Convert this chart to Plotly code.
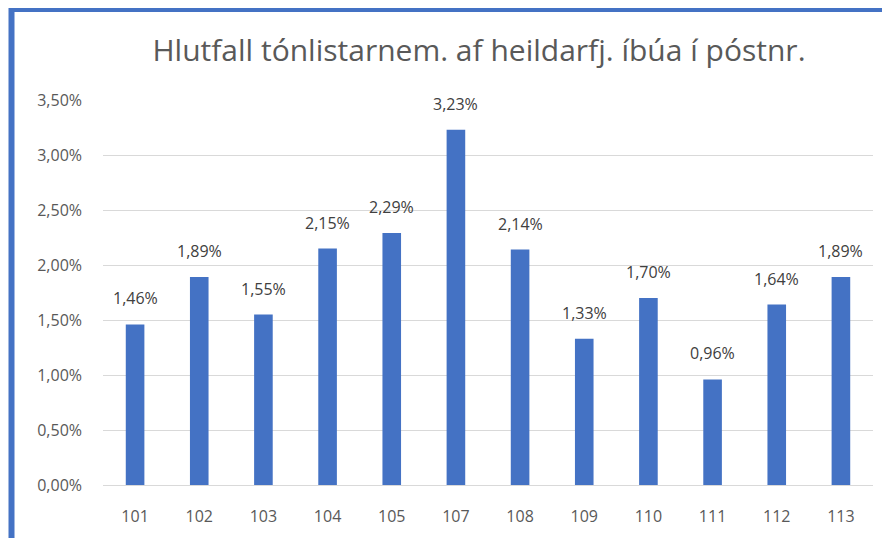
import plotly.graph_objects as go

categories = ["101", "102", "103", "104", "105", "107", "108", "109", "110", "111", "112", "113"]
values = [0.0146, 0.0189, 0.0155, 0.0215, 0.0229, 0.0323, 0.0214, 0.0133, 0.0170, 0.0096, 0.0164, 0.0189]
y_ticks = [0, 0.005, 0.01, 0.015, 0.02, 0.025, 0.03, 0.035]

OFF = 8  # page body margin
W, H = 890 - OFF, 538 - OFF
L, R, T, B = 103 - OFF, 17, 100 - OFF, 53
pw, ph = W - L - R, H - T - B

def px(x):
    return (x - OFF - L) / pw

def py(y):
    return (H - B - (y - OFF)) / ph

fig = go.Figure()
fig.add_trace(go.Bar(
    x=categories, y=values,
    marker=dict(color="#4472C4", line=dict(width=0)),
    cliponaxis=False,
    width=0.29,
))

for i, (c, v) in enumerate(zip(categories, values)):
    fig.add_annotation(
        x=i, y=v, xref="x", yref="y",
        text=f"{v * 100:.2f}%".replace(".", ","),
        showarrow=False, yanchor="bottom", yshift=13,
        font=dict(family="Open Sans", size=16, color="#404040"),
    )

fig.update_layout(
    width=W, height=H,
    margin=dict(l=L, r=R, t=T, b=B),
    paper_bgcolor="white", plot_bgcolor="white",
    separators=", ",
    showlegend=False,
    title=dict(text="Hlutfall tónlistarnem. af heildarfj. íbúa í póstnr.",
               x=(479 - OFF) / W, xref="container", xanchor="center",
               y=1 - (50 - OFF) / H, yref="container", yanchor="middle",
               font=dict(family="Open Sans", size=30, color="#595959")),
    xaxis=dict(type="category", showgrid=False, showline=False, ticks="",
               ticklabelstandoff=20,
               tickfont=dict(family="Open Sans", size=16, color="#595959")),
    yaxis=dict(range=[0, 0.035], tickvals=y_ticks, tickformat=".2%",
               showgrid=True, gridcolor="#D9D9D9", gridwidth=1,
               zeroline=True, zerolinecolor="#D9D9D9", zerolinewidth=1,
               showline=False, ticks="", ticklabelstandoff=20,
               tickfont=dict(family="Open Sans", size=16, color="#595959")),
    shapes=[
        dict(type="line", xref="paper", yref="paper",
             x0=px(11.5), x1=px(900), y0=py(9), y1=py(9),
             line=dict(color="#4472C4", width=6)),
        dict(type="line", xref="paper", yref="paper",
             x0=px(11.5), x1=px(11.5), y0=py(6), y1=py(545),
             line=dict(color="#4472C4", width=6)),
    ],
)

fig.write_html("out.html")
